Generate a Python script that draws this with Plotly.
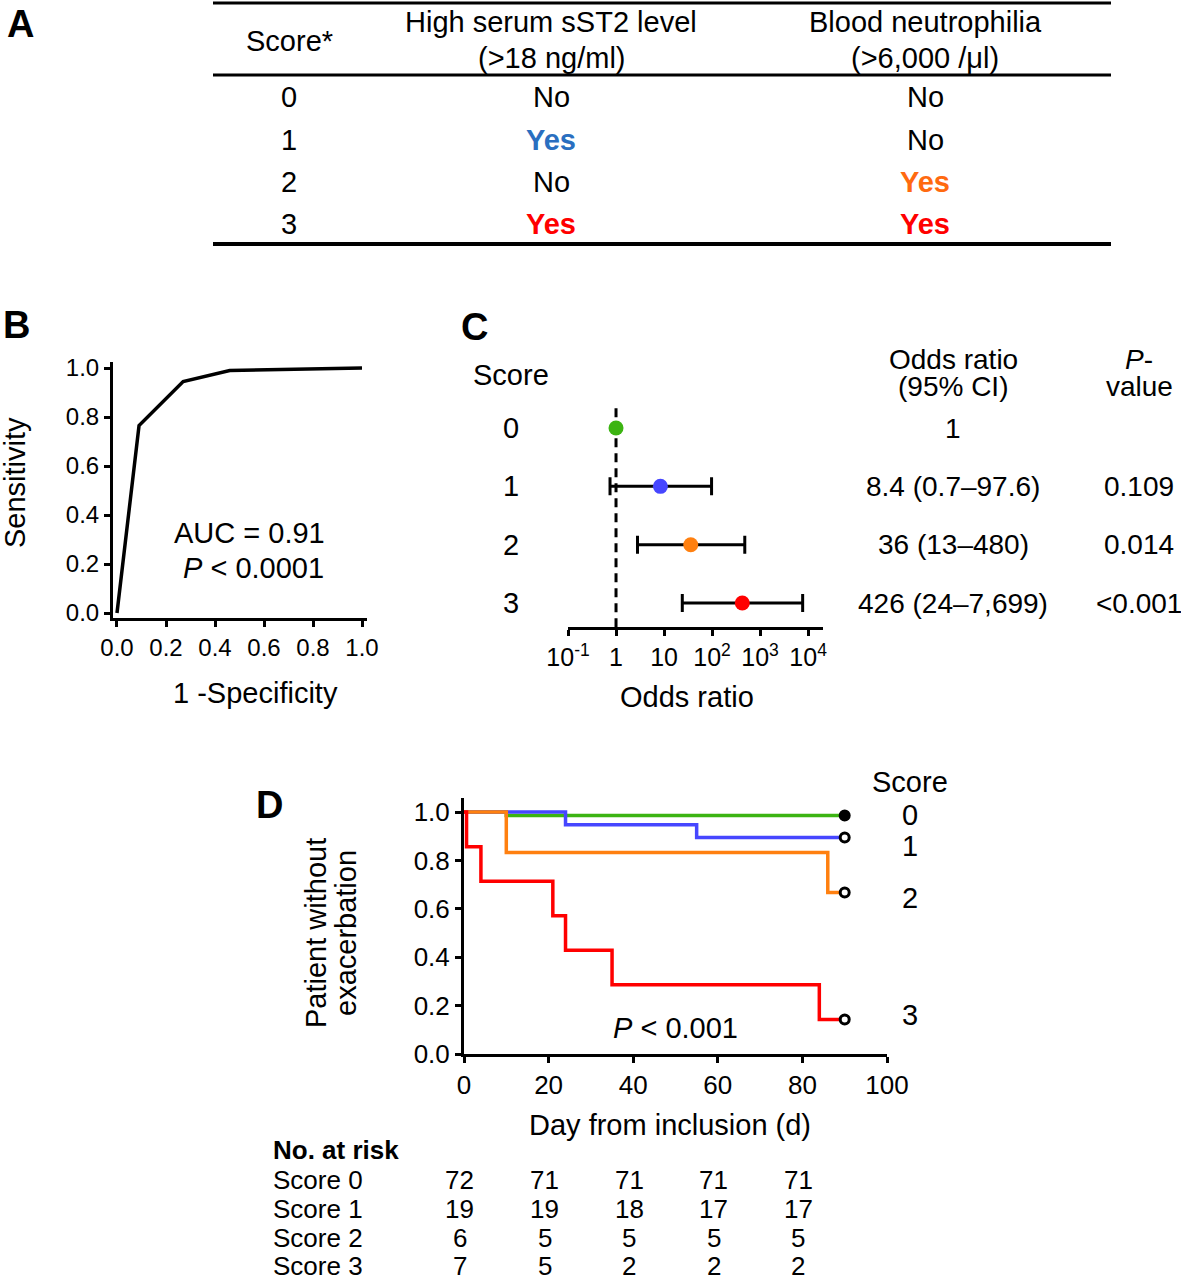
import plotly.graph_objects as go

W, H = 1181, 1282
FONT = "Liberation Sans, Arial, sans-serif"

# ---------------- data ----------------
# Panel A
table_scores = ["0", "1", "2", "3"]
sst2_high = ["No", "Yes", "No", "Yes"]
neutrophilia = ["No", "No", "Yes", "Yes"]

# Panel B (ROC)
roc_fpr = [0.0, 0.09, 0.27, 0.46, 1.0]
roc_tpr = [0.0, 0.765, 0.945, 0.99, 1.0]
roc_ticks = [0.0, 0.2, 0.4, 0.6, 0.8, 1.0]

# Panel C (odds ratios)
or_scores = [0, 1, 2, 3]
or_est = [1, 8.4, 36, 426]
or_low_drawn = [1, 0.75, 2.8, 24]
or_high_drawn = [1, 97.6, 480, 7699]
or_text = ["1", "8.4 (0.7\u201397.6)", "36 (13\u2013480)", "426 (24\u20137,699)"]
p_text = ["", "0.109", "0.014", "&lt;0.001"]
or_tickvals = [0.1, 1, 10, 100, 1000, 10000]
or_ticktext = ["10<sup>-1</sup>", "1", "10", "10<sup>2</sup>", "10<sup>3</sup>", "10<sup>4</sup>"]

# Panel D (Kaplan-Meier)
s0_days = [0, 10, 90]
s0_surv = [1.0, 0.986, 0.986]
s1_days = [0, 24, 55, 90]
s1_surv = [1.0, 0.947, 0.895, 0.895]
s2_days = [0, 10, 86, 90]
s2_surv = [1.0, 0.833, 0.667, 0.667]
s3_days = [0, 0.6, 4, 21, 24, 35, 84, 90]
s3_surv = [1.0, 0.857, 0.714, 0.571, 0.429, 0.286, 0.143, 0.143]
risk_days = [0, 20, 40, 60, 80]
risk_s0 = [72, 71, 71, 71, 71]
risk_s1 = [19, 19, 18, 17, 17]
risk_s2 = [6, 5, 5, 5, 5]
risk_s3 = [7, 5, 2, 2, 2]

GREEN, BLUE, ORANGE, RED = "#3cb412", "#4646ff", "#ff8010", "#ff0000"
score_colors = [GREEN, BLUE, ORANGE, RED]
table_yes_colors = {1: "#2a6fc0", 2: "#ff6a10", 3: "#ff0000"}


def px(x):
    return x / W


def py(y):
    return 1 - y / H


annotations = []
shapes = []


def ann(text, x, y, size, xanchor="center", yanchor="middle", color="black",
        xref="paper", yref="paper", angle=0, xshift=0):
    annotations.append(dict(
        text=text, x=x if xref != "paper" else px(x),
        y=y if yref != "paper" else py(y),
        xref=xref, yref=yref, xanchor=xanchor, yanchor=yanchor,
        showarrow=False, textangle=angle, xshift=xshift,
        font=dict(family=FONT, size=size, color=color)))


fig = go.Figure()

# ---------------- Panel A: table ----------------
ann("<b>A</b>", 20, 24, 38)
for yy, w in [(3, 3), (75, 3), (244, 4)]:
    shapes.append(dict(type="line", xref="paper", yref="paper",
                       x0=px(213), x1=px(1111), y0=py(yy), y1=py(yy),
                       line=dict(color="black", width=w)))
TS = 29
ann("Score*", 289, 41, TS)
ann("High serum sST2 level", 551, 22, TS)
ann("(&gt;18 ng/ml)", 551, 58, TS)
ann("Blood neutrophilia", 925, 22, TS)
ann("(&gt;6,000 /\u03bcl)", 925, 58, TS)
row_y = [97, 140, 182, 224]
for i, s in enumerate(table_scores):
    ann(s, 289, row_y[i], TS)
    for val, cx in [(sst2_high[i], 551), (neutrophilia[i], 925)]:
        if val == "Yes":
            ann("<b>Yes</b>", cx, row_y[i], TS, color=table_yes_colors[i])
        else:
            ann(val, cx, row_y[i], TS)

# ---------------- Panel B: ROC ----------------
fig.add_trace(go.Scatter(x=roc_fpr, y=roc_tpr, mode="lines",
                         line=dict(color="black", width=3.5),
                         xaxis="x", yaxis="y", showlegend=False))
ann("<b>B</b>", 16, 325, 38)
ann("Sensitivity", 15, 483, 29, angle=-90)
ann("1 -Specificity", 255, 693, 29)
ann("AUC = 0.91", 249, 533, 29)
ann("<i>P</i> &lt; 0.0001", 253, 568, 29)

# ---------------- Panel C: forest ----------------
fig.add_trace(go.Scatter(x=[1, 1], y=[-0.34, 3.41], mode="lines",
                         line=dict(color="black", width=3, dash="9px,6px"),
                         xaxis="x2", yaxis="y2", showlegend=False))
for i, s in enumerate(or_scores):
    kw = {}
    if or_high_drawn[i] != or_low_drawn[i]:
        kw["error_x"] = dict(type="data", symmetric=False,
                             array=[or_high_drawn[i] - or_est[i]],
                             arrayminus=[or_est[i] - or_low_drawn[i]],
                             color="black", thickness=3, width=9)
    fig.add_trace(go.Scatter(x=[or_est[i]], y=[s], mode="markers",
                             marker=dict(color=score_colors[i], size=15),
                             xaxis="x2", yaxis="y2", showlegend=False, **kw))
ann("<b>C</b>", 474, 327, 38)
ann("Score", 511, 375, 29)
for i, s in enumerate(or_scores):
    ann(str(s), 511, s, 29, yref="y2")
    ann(or_text[i], 953, s, 28, yref="y2")
    if p_text[i]:
        ann(p_text[i], 1139, s, 28, yref="y2")
ann("Odds ratio", 953, 359, 28)
ann("(95% CI)", 953, 387, 28)
ann("<i>P</i>-", 1139, 359, 28)
ann("value", 1139, 387, 28)
ann("Odds ratio", 687, 697, 29)

# ---------------- Panel D: Kaplan-Meier ----------------
km = [(s0_days, s0_surv, GREEN), (s1_days, s1_surv, BLUE),
      (s2_days, s2_surv, ORANGE), (s3_days, s3_surv, RED)]
for d, sv, c in km:
    fig.add_trace(go.Scatter(x=d, y=sv, mode="lines", line_shape="hv",
                             line=dict(color=c, width=3.5),
                             xaxis="x3", yaxis="y3", showlegend=False))
for k, (d, sv, c) in enumerate(km):
    fig.add_trace(go.Scatter(x=[d[-1]], y=[sv[-1]], mode="markers",
                             marker=dict(size=9, color="black" if k == 0 else "white",
                                         line=dict(color="black", width=3)),
                             xaxis="x3", yaxis="y3", showlegend=False))
ann("<b>D</b>", 269, 805, 38)
ann("Patient without", 316, 933, 29, angle=-90)
ann("exacerbation", 346, 933, 29, angle=-90)
ann("Day from inclusion (d)", 670, 1125, 29)
ann("<i>P</i> &lt; 0.001", 675, 1028, 29)
ann("Score", 910, 782, 29)
for lab, yy in [("0", 815), ("1", 846), ("2", 898), ("3", 1015)]:
    ann(lab, 910, yy, 29)

ann("<b>No. at risk</b>", 271, 1150, 26, xanchor="left")
for name, vals, yy in [("Score 0", risk_s0, 1180), ("Score 1", risk_s1, 1209),
                       ("Score 2", risk_s2, 1238), ("Score 3", risk_s3, 1266)]:
    ann(name, 271, yy, 26, xanchor="left")
    for d, v in zip(risk_days, vals):
        ann(str(v), d, yy, 26, xref="x3", xshift=-4)

axis_common = dict(showline=True, linecolor="black", linewidth=3, ticks="outside",
                   ticklen=6, tickwidth=3, tickcolor="black", showgrid=False,
                   zeroline=False, fixedrange=True, automargin=False)

fig.update_layout(
    template="none",
    width=W, height=H, autosize=False,
    margin=dict(l=0, r=0, t=0, b=0, pad=0, autoexpand=False),
    paper_bgcolor="white", plot_bgcolor="white",
    font=dict(family=FONT, color="black"),
    annotations=annotations, shapes=shapes, showlegend=False,
    xaxis=dict(domain=[px(113), px(367)], range=[-0.0163, 1.0204], anchor="y",
               tickvals=roc_ticks, tickformat=".1f",
               tickfont=dict(size=24, family=FONT, color="black"), **axis_common),
    yaxis=dict(domain=[py(618), py(362)], range=[-0.0204, 1.0245], anchor="x",
               tickvals=roc_ticks, tickformat=".1f",
               tickfont=dict(size=24, family=FONT, color="black"), **axis_common),
    xaxis2=dict(domain=[px(568), px(823)], type="log", range=[-1, 4.31], anchor="y2",
                tickvals=or_tickvals, ticktext=or_ticktext,
                tickfont=dict(size=25, family=FONT, color="black"), **axis_common),
    yaxis2=dict(domain=[py(627), py(408)], range=[3.411, -0.343], anchor="x2",
                visible=False, fixedrange=True, automargin=False),
    xaxis3=dict(domain=[px(464), px(887)], range=[0, 100], anchor="y3",
                tickvals=[0, 20, 40, 60, 80, 100],
                tickfont=dict(size=26, family=FONT, color="black"), **axis_common),
    yaxis3=dict(domain=[py(1054), py(798)], range=[0, 1.058], anchor="x3",
                tickvals=[0, 0.2, 0.4, 0.6, 0.8, 1.0], tickformat=".1f",
                tickfont=dict(size=26, family=FONT, color="black"), **axis_common),
)

fig.write_html("out.html", config={"displayModeBar": False},
               post_script="document.body.style.margin='0';")
